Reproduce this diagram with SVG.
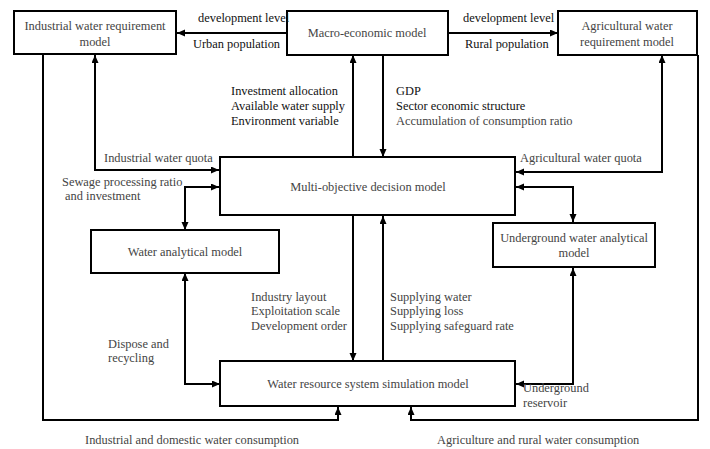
<svg xmlns="http://www.w3.org/2000/svg" width="710" height="449" viewBox="0 0 710 449">
<defs>
<marker id="ah" markerUnits="userSpaceOnUse" markerWidth="9" markerHeight="8" refX="8" refY="3.5" orient="auto-start-reverse">
<path d="M0,0 L8,3.5 L0,7 z" fill="#000"/>
</marker>
<style>
.box{fill:#fff;stroke:#000;stroke-width:2}
.c{fill:none;stroke:#000;stroke-width:2}
text{font-family:"Liberation Serif","Times New Roman",serif;font-size:12.4px}
.g{fill:#444}
.k{fill:#111}
.m{text-anchor:middle}
</style>
</defs>
<rect width="710" height="449" fill="#fff"/>
<g id="connectors">
<path class="c" d="M287,33 H177" marker-end="url(#ah)"/>
<path class="c" d="M448,33 H558" marker-end="url(#ah)"/>
<path class="c" d="M353,157 V55" marker-end="url(#ah)"/>
<path class="c" d="M383,55 V157" marker-end="url(#ah)"/>
<path class="c" d="M95,55 V170 H219" marker-start="url(#ah)" marker-end="url(#ah)"/>
<path class="c" d="M219,187 H185 V230" marker-start="url(#ah)" marker-end="url(#ah)"/>
<path class="c" d="M185,273 V384 H220" marker-start="url(#ah)" marker-end="url(#ah)"/>
<path class="c" d="M353,216 V361" marker-end="url(#ah)"/>
<path class="c" d="M383,361 V216" marker-end="url(#ah)"/>
<path class="c" d="M662,55 V172 H516" marker-start="url(#ah)" marker-end="url(#ah)"/>
<path class="c" d="M516,187 H573 V222" marker-start="url(#ah)" marker-end="url(#ah)"/>
<path class="c" d="M573,268 V384 H516" marker-start="url(#ah)" marker-end="url(#ah)"/>
<path class="c" d="M43,54 V420 H338 V407" marker-end="url(#ah)"/>
<path class="c" d="M698,55 V420 H411 V407" marker-end="url(#ah)"/>
</g>
<g id="industrial">
<rect class="box" x="14" y="11" width="162" height="43"/>
<text class="g m" x="95" y="30">Industrial water requirement</text>
<text class="g m" x="95" y="46">model</text>
</g>
<g id="macro">
<rect class="box" x="287" y="11" width="161" height="44"/>
<text class="g m" x="367" y="37">Macro-economic model</text>
</g>
<g id="agricultural">
<rect class="box" x="558" y="11" width="139" height="44"/>
<text class="g m" x="627" y="30">Agricultural water</text>
<text class="g m" x="627" y="46">requirement model</text>
</g>
<g id="multi">
<rect class="box" x="220" y="157" width="295" height="58"/>
<text class="g m" x="368" y="191">Multi-objective decision model</text>
</g>
<g id="wateranalytical">
<rect class="box" x="91" y="230" width="188" height="43"/>
<text class="g m" x="185" y="256">Water analytical model</text>
</g>
<g id="underground">
<rect class="box" x="493" y="223" width="162" height="44"/>
<text class="g m" x="574" y="242">Underground water analytical</text>
<text class="g m" x="574" y="257">model</text>
</g>
<g id="simulation">
<rect class="box" x="220" y="361" width="295" height="45"/>
<text class="g m" x="368" y="388">Water resource system simulation model</text>
</g>
<g id="labels">
<text class="k" x="198" y="22">development level</text>
<text class="k" x="193" y="48">Urban population</text>
<text class="k" x="463" y="22">development level</text>
<text class="k" x="465" y="48">Rural population</text>
<text class="k" x="231" y="95">Investment allocation</text>
<text class="k" x="231" y="110">Available water supply</text>
<text class="k" x="231" y="125">Environment variable</text>
<text class="k" x="396" y="95">GDP</text>
<text class="k" x="396" y="110">Sector economic structure</text>
<text class="g" x="396" y="125">Accumulation of consumption ratio</text>
<text class="g" x="104" y="162">Industrial water quota</text>
<text class="g" x="62" y="186">Sewage processing ratio</text>
<text class="g" x="65" y="200">and investment</text>
<text class="g" x="520" y="162">Agricultural water quota</text>
<text class="g" x="251" y="301">Industry layout</text>
<text class="g" x="251" y="315">Exploitation scale</text>
<text class="g" x="251" y="330">Development order</text>
<text class="g" x="390" y="301">Supplying water</text>
<text class="g" x="390" y="315">Supplying loss</text>
<text class="g" x="390" y="330">Supplying safeguard rate</text>
<text class="g" x="108" y="348">Dispose and</text>
<text class="g" x="108" y="362">recycling</text>
<text class="g" x="523" y="392">Underground</text>
<text class="g" x="523" y="407">reservoir</text>
<text class="g" x="85" y="444">Industrial and domestic water consumption</text>
<text class="g" x="437" y="444">Agriculture and rural water consumption</text>
</g>
</svg>
